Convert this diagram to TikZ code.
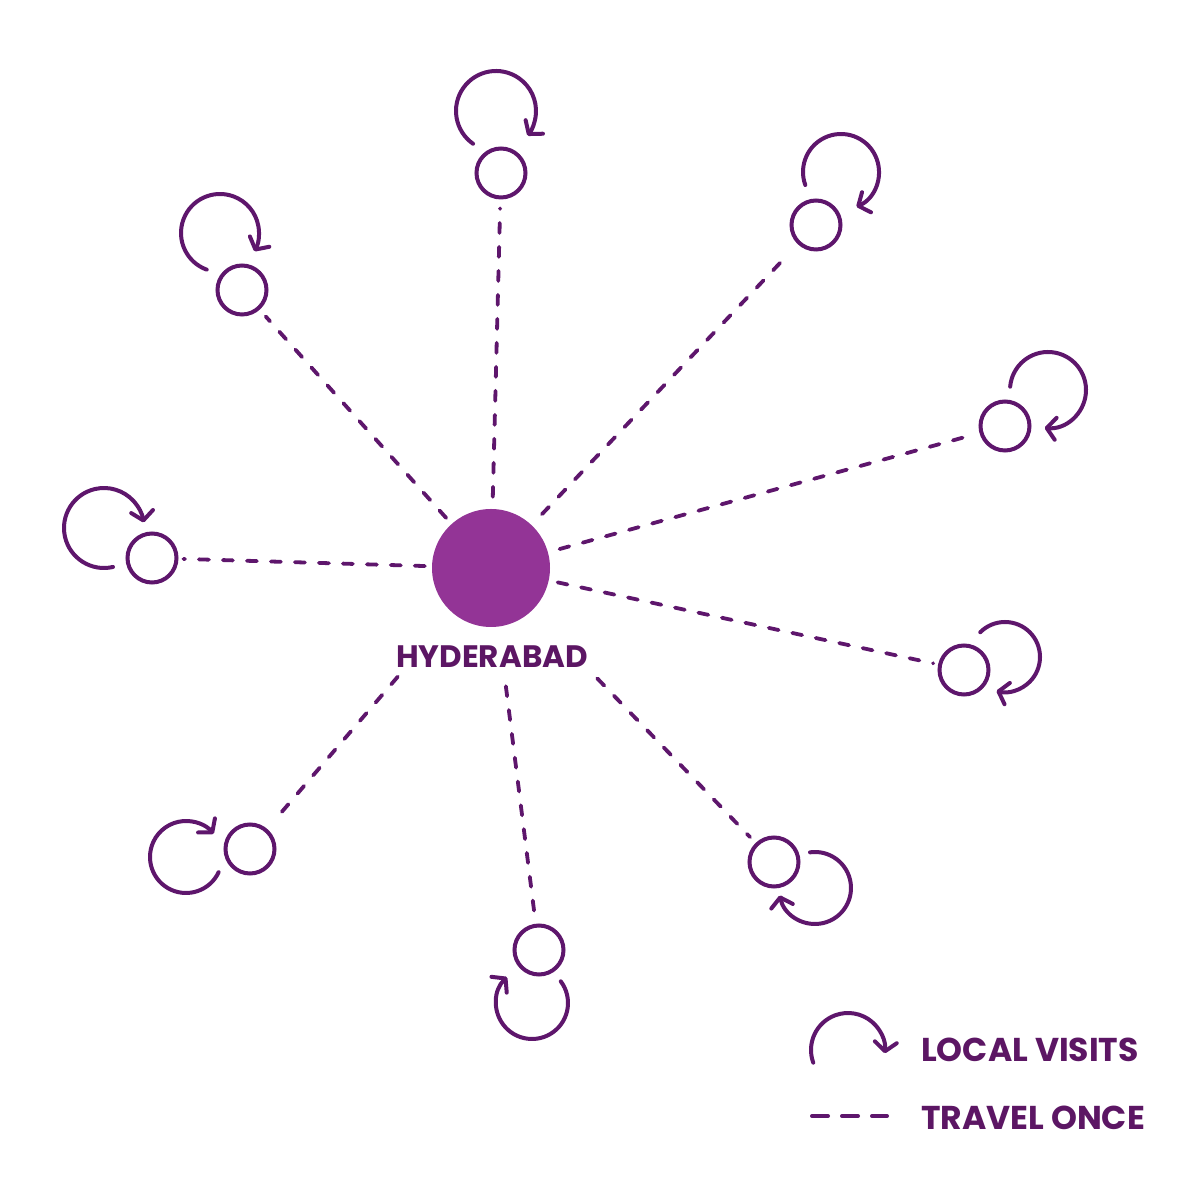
\documentclass[tikz,border=0pt]{standalone}
\usepackage{fontspec}
\setmainfont{Poppins}
\usetikzlibrary{arrows.meta}
\definecolor{pl}{RGB}{94,22,108}
\definecolor{hubc}{RGB}{147,52,150}
\definecolor{txt}{RGB}{92,22,100}
\begin{document}
\begin{tikzpicture}[x=1pt,y=1pt,
  site/.style={circle,draw=pl,line width=4pt,minimum size=49pt,inner sep=0pt},
  hubnode/.style={circle,fill=hubc,minimum size=118pt,inner sep=0pt},
  travel/.style={draw=pl,line width=3.8pt,line cap=round,dash pattern=on 10pt off 14pt},
  visit/.style={draw=pl,line width=4pt,line cap=round,-{Straight Barb[length=9pt,width=22pt,round]}},
  lbl/.style={text=txt,font=\bfseries\fontsize{33}{40}\selectfont,inner sep=0pt}]
\useasboundingbox (0,0) rectangle (1200,1200);
\fill[white] (0,0) rectangle (1200,1200);

% hub
\node[hubnode] (hub) at (491,632) {};
\node[lbl,anchor=base,font=\bfseries\fontsize{31}{38}\selectfont] (hublbl) at (492,532) {HYDERABAD};

% sites
\node[site] (c1) at (501,1027) {};
\node[site] (c2) at (242,910) {};
\node[site] (c3) at (816,975) {};
\node[site] (c4) at (1005,774) {};
\node[site] (c5) at (152,642) {};
\node[site] (c6) at (964,530) {};
\node[site] (c7) at (250,351) {};
\node[site] (c8) at (539,250) {};
\node[site] (c9) at (774,338) {};

% travel once
\draw[travel, shorten <=12pt, shorten >=9pt] (hub) -- (c1);
\draw[travel, shorten <=8pt, shorten >=9pt] (hub) -- (c2);
\draw[travel, shorten <=15pt, shorten >=12pt] (hub) -- (c3);
\draw[travel, shorten <=12pt, shorten >=5pt] (hub) -- (c4);
\draw[travel, shorten <=7pt, shorten >=5pt] (hub) -- (c5);
\draw[travel, shorten <=9pt, shorten >=5pt] (hub) -- (c6);
\draw[travel, shorten <=84pt, shorten >=11pt] (hub) -- (c7);
\draw[travel, shorten <=60pt, shorten >=7pt] (hub) -- (c8);
\draw[travel, shorten <=94pt, shorten >=8pt] (hub) -- (c9);

% local visits
\draw[visit] (496,1089) ++(235:40) arc[start angle=235, end angle=-38, radius=40];
\draw[visit] (220,967) ++(250:39) arc[start angle=250, end angle=-28, radius=39];
\draw[visit] (841,1028) ++(200:38) arc[start angle=200, end angle=-66, radius=38];
\draw[visit] (1048,810) ++(175:38) arc[start angle=175, end angle=-95, radius=38];
\draw[visit] (104,672) ++(-77:40) arc[start angle=-77, end angle=-352, radius=40];
\draw[visit] (1005,543) ++(135:35) arc[start angle=135, end angle=-104, radius=35];
\draw[visit] (186,343) ++(-25:36) arc[start angle=-25, end angle=-320, radius=36];
\draw[visit] (532,197) ++(37:36) arc[start angle=37, end angle=-226, radius=36];
\draw[visit] (815,312) ++(98:36) arc[start angle=98, end angle=-168, radius=36];

% legend
\draw[visit] (848,150) ++(200:37) arc[start angle=200, end angle=-5, radius=37];
\coordinate (lgA) at (812,84);
\coordinate (lgB) at (887,84);
\draw[draw=pl,line width=4pt,line cap=round,dash pattern=on 16pt off 14pt] (lgA) -- (lgB);
\node[lbl,anchor=base west] (lg1) at (921,138) {LOCAL VISITS};
\node[lbl,anchor=base west] (lg2) at (921,70) {TRAVEL ONCE};
\end{tikzpicture}
\end{document}
